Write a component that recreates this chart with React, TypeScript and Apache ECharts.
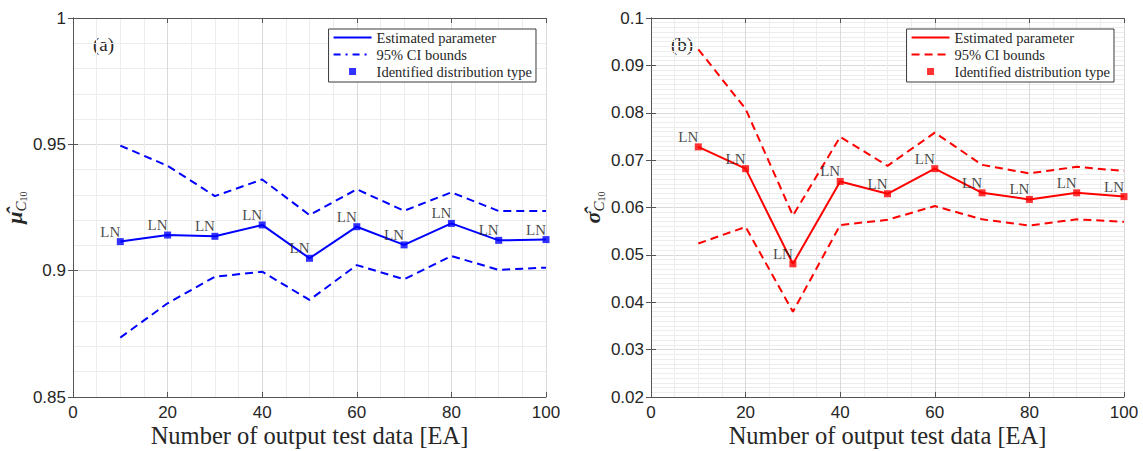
import React, { useEffect, useRef } from "react";
import * as echarts from "echarts";

// Sample sizes (number of output test data, EA)
const sampleSizes = [10, 20, 30, 40, 50, 60, 70, 80, 90, 100];

// (a) estimated mean of C10 and its 95% CI bounds
const muEstimate = [0.9115, 0.9141, 0.9136, 0.9181, 0.9049, 0.9174, 0.9102, 0.9187, 0.912, 0.9123];
const muUpper = [0.9495, 0.9415, 0.9295, 0.9361, 0.922, 0.9322, 0.9237, 0.931, 0.9236, 0.9236];
const muLower = [0.8735, 0.8871, 0.8976, 0.8996, 0.8884, 0.9022, 0.8966, 0.9058, 0.9003, 0.9012];

// (b) estimated standard deviation of C10 and its 95% CI bounds
const sigmaEstimate = [0.0728, 0.0682, 0.0481, 0.0655, 0.0629, 0.0682, 0.0631, 0.0617, 0.0631, 0.0623];
const sigmaUpper = [0.0934, 0.0808, 0.0583, 0.0749, 0.0688, 0.0758, 0.069, 0.0672, 0.0686, 0.0677];
const sigmaLower = [0.0524, 0.0559, 0.038, 0.0563, 0.0574, 0.0603, 0.0575, 0.0562, 0.0575, 0.057];

// Identified distribution type at each sample size
const distTypes = ["LN", "LN", "LN", "LN", "LN", "LN", "LN", "LN", "LN", "LN"];

// Tick values
const xTicks = [0, 20, 40, 60, 80, 100];
const muTicks = [0.85, 0.9, 0.95, 1];
const sigmaTicks = [0.02, 0.03, 0.04, 0.05, 0.06, 0.07, 0.08, 0.09, 0.1];

const legendNames = ["Estimated parameter", "95% CI bounds", "Identified distribution type"];

const SANS = "'Liberation Sans', Arial, Helvetica, sans-serif";
const SERIF = "'Liberation Serif', 'Times New Roman', serif";
const AXIS_COLOR = "#555555";
const TEXT_COLOR = "#262626";

// small filled square centred in a 38x14 legend icon box
const squareIcon = "path://M0,0L0,0M38,14L38,14M15.5,3.5L22.5,3.5L22.5,10.5L15.5,10.5Z";

const step = (ticks: number[]) => +(ticks[1] - ticks[0]).toFixed(6);

type PanelProps = {
  width: number;
  gridLeft: number;
  legendRight: number;
  color: string;
  estimate: number[];
  upper: number[];
  lower: number[];
  yTicks: number[];
  yMinorSplit: number;
  symbolName: string;
  panelTag: string;
  ciLegendDash: number[] | string;
};

function Panel(p: PanelProps) {
  const ref = useRef<HTMLDivElement>(null);
  useEffect(() => {
    if (!ref.current) return;
    const chart = echarts.init(ref.current, undefined, { renderer: "svg" });
    const pairs = (ys: number[]) => sampleSizes.map((x, i) => [x, ys[i]]);
    const yMin = p.yTicks[0];
    const yMax = p.yTicks[p.yTicks.length - 1];
    const yInterval = step(p.yTicks);
    const xMin = xTicks[0];
    const xMax = xTicks[xTicks.length - 1];
    const xInterval = step(xTicks);

    const baseX = {
      type: "value" as const,
      min: xMin,
      max: xMax,
      interval: xInterval,
      gridIndex: 0,
    };
    const baseY = {
      type: "value" as const,
      min: yMin,
      max: yMax,
      interval: yInterval,
      gridIndex: 0,
    };
    const frameLine = { show: true, lineStyle: { color: AXIS_COLOR, width: 1 } };
    const inTick = { show: true, inside: true, length: 5, lineStyle: { color: AXIS_COLOR, width: 1 } };
    const hiddenMarker = { opacity: 0 };

    chart.setOption({
      animation: false,
      grid: {
        left: p.gridLeft,
        top: 18,
        width: 473,
        height: 379,
        show: false,
        containLabel: false,
        outerBoundsMode: "none",
      },
      xAxis: [
        {
          ...baseX,
          position: "bottom",
          axisLine: frameLine,
          axisTick: inTick,
          axisLabel: { fontFamily: SANS, fontSize: 17, color: TEXT_COLOR, margin: 7 },
          splitLine: { show: true, lineStyle: { color: "#dadada", width: 1 } },
          minorTick: { show: false, splitNumber: 4 },
          minorSplitLine: { show: true, lineStyle: { color: "#ededed", width: 1 } },
          name: "Number of output test data [EA]",
          nameLocation: "middle",
          nameGap: 26,
          nameMoveOverlap: false,
          nameTextStyle: { fontFamily: SERIF, fontSize: 24.5, color: TEXT_COLOR },
        },
        {
          ...baseX,
          position: "top",
          axisLine: frameLine,
          axisTick: inTick,
          axisLabel: { show: false },
          splitLine: { show: false },
        },
      ],
      yAxis: [
        {
          ...baseY,
          position: "left",
          axisLine: frameLine,
          axisTick: inTick,
          axisLabel: { fontFamily: SANS, fontSize: 17, color: TEXT_COLOR, margin: 7 },
          splitLine: { show: true, lineStyle: { color: "#dadada", width: 1 } },
          minorTick: { show: false, splitNumber: p.yMinorSplit },
          minorSplitLine: { show: true, lineStyle: { color: "#ededed", width: 1 } },
          name: `{v|${p.symbolName}\u0302}{c|C}{n|10}`,
          nameLocation: "middle",
          nameGap: 45,
          nameMoveOverlap: false,
          nameTextStyle: {
            color: TEXT_COLOR,
            rich: {
              v: {
                fontFamily: SERIF,
                fontWeight: "bold",
                fontStyle: "italic",
                fontSize: 22,
                lineHeight: 28,
                verticalAlign: "middle",
                color: TEXT_COLOR,
              },
              c: {
                fontFamily: SERIF,
                fontStyle: "italic",
                fontSize: 15,
                lineHeight: 14,
                verticalAlign: "bottom",
                color: TEXT_COLOR,
              },
              n: {
                fontFamily: SERIF,
                fontSize: 10,
                lineHeight: 7,
                verticalAlign: "bottom",
                color: TEXT_COLOR,
              },
            },
          },
        },
        {
          ...baseY,
          position: "right",
          axisLine: frameLine,
          axisTick: inTick,
          axisLabel: { show: false },
          splitLine: { show: false },
        },
      ],
      legend: {
        orient: "vertical",
        right: p.legendRight,
        top: 29,
        itemWidth: 38,
        itemHeight: 14,
        itemGap: 2,
        padding: [1, 4, 3, 4],
        borderColor: "#3a3a3a",
        borderWidth: 1,
        borderRadius: 0,
        backgroundColor: "#ffffff",
        selectedMode: false,
        textStyle: { fontFamily: SERIF, fontSize: 14.5, color: TEXT_COLOR },
        data: [
          { name: legendNames[0], itemStyle: hiddenMarker },
          { name: legendNames[1], itemStyle: hiddenMarker, lineStyle: { type: p.ciLegendDash } },
          { name: legendNames[2], icon: squareIcon },
        ],
      },
      graphic: [
        {
          type: "text",
          left: p.gridLeft + 20,
          top: 35,
          style: { text: p.panelTag, font: `19px ${SERIF}`, fill: TEXT_COLOR },
        },
      ],
      series: [
        {
          name: legendNames[0],
          type: "line",
          data: pairs(p.estimate),
          symbol: "none",
          lineStyle: { color: p.color, width: 2 },
          itemStyle: { color: p.color },
          z: 3,
        },
        {
          name: legendNames[1],
          type: "line",
          data: pairs(p.upper),
          symbol: "none",
          lineStyle: { color: p.color, width: 2, type: [8, 5] },
          itemStyle: { color: p.color },
          z: 2,
        },
        {
          name: legendNames[1],
          type: "line",
          data: pairs(p.lower),
          symbol: "none",
          lineStyle: { color: p.color, width: 2, type: [8, 5] },
          itemStyle: { color: p.color },
          z: 2,
        },
        {
          name: legendNames[2],
          type: "scatter",
          data: pairs(p.estimate),
          symbol: "rect",
          symbolSize: 7,
          itemStyle: { color: p.color },
          z: 4,
          label: {
            show: true,
            position: "top",
            distance: 1,
            offset: [-10, 2],
            formatter: (d: any) => distTypes[d.dataIndex],
            fontFamily: SERIF,
            fontSize: 15,
            color: "#1a1a1a",
          },
        },
      ],
    });
    return () => chart.dispose();
  }, []);
  return <div ref={ref} style={{ width: p.width, height: 451 }} />;
}

export default function App() {
  return (
    <div
      style={{
        position: "absolute",
        left: 0,
        top: 0,
        width: 1143,
        height: 451,
        display: "flex",
        background: "#ffffff",
      }}
    >
      <Panel
        width={572}
        gridLeft={73}
        legendRight={36}
        color="#0000ff"
        estimate={muEstimate}
        upper={muUpper}
        lower={muLower}
        yTicks={muTicks}
        yMinorSplit={5}
        symbolName={"\u03bc"}
        panelTag="(a)"
        ciLegendDash={[7, 5, 2, 5]}
      />
      <Panel
        width={571}
        gridLeft={79}
        legendRight={29}
        color="#ff0000"
        estimate={sigmaEstimate}
        upper={sigmaUpper}
        lower={sigmaLower}
        yTicks={sigmaTicks}
        yMinorSplit={10}
        symbolName={"\u03c3"}
        panelTag="(b)"
        ciLegendDash={[8, 5]}
      />
    </div>
  );
}
